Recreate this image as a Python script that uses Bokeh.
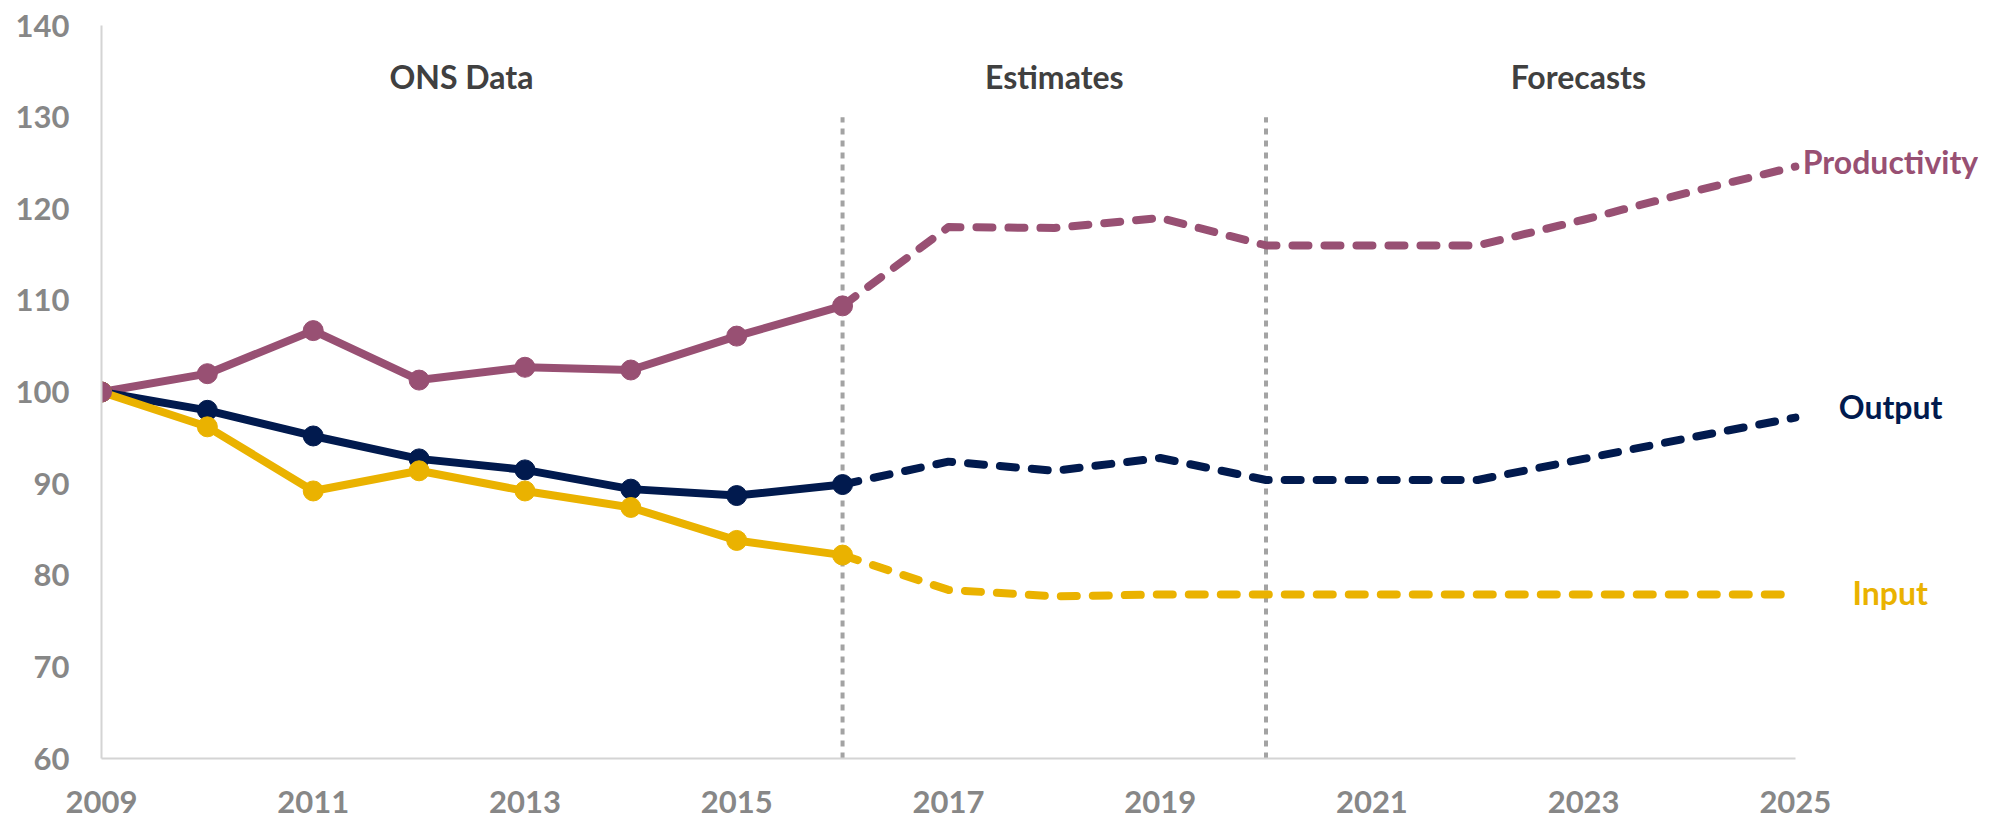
from bokeh.plotting import figure
from bokeh.models import Range1d, FixedTicker, ColumnDataSource
from bokeh.core.properties import value
from bokeh.embed import file_html
from bokeh.resources import INLINE

years = list(range(2009, 2026))
productivity = [100, 102.0, 106.7, 101.3, 102.7, 102.4, 106.1, 109.4,
                118.0, 117.9, 119.0, 116.0, 116.0, 116.0, 118.8, 121.8, 124.6]
output = [100, 98.0, 95.2, 92.7, 91.5, 89.4, 88.7, 89.9,
          92.4, 91.4, 92.8, 90.4, 90.4, 90.4, 92.7, 95.0, 97.2]
inputs = [100, 96.2, 89.2, 91.4, 89.2, 87.4, 83.8, 82.2,
          78.4, 77.7, 77.9, 77.9, 77.9, 77.9, 77.9, 77.9, 77.9]
n_actual = 8  # ONS data 2009-2016

series_names = ["Productivity", "Output", "Input"]
series_colors = ["#985073", "#011A4E", "#EAB200"]
label_pos = [(2025.07, 125.2), (2025.41, 98.4), (2025.54, 78.1)]

sections = ["ONS Data", "Estimates", "Forecasts"]
section_x = [2012.4, 2018.0, 2022.95]
section_y = 134.4
dividers = [2016, 2020]
x_ticks = list(range(2009, 2026, 2))
y_ticks = list(range(60, 141, 10))

FONT = "Lato"

p = figure(width=1980, height=821, output_backend="svg", toolbar_location=None,
           x_range=Range1d(2009, 2026.73), y_range=Range1d(60, 140),
           min_border_left=101, min_border_right=2, min_border_top=25,
           min_border_bottom=63)
p.outline_line_color = None
p.xgrid.grid_line_color = None
p.ygrid.grid_line_color = None
p.background_fill_color = "white"

for ax in (p.xaxis[0], p.yaxis[0]):
    ax.axis_line_color = "#D4D4D4"
    ax.axis_line_width = 2
    ax.major_tick_line_color = None
    ax.minor_tick_line_color = None
    ax.major_label_text_font = FONT
    ax.major_label_text_font_style = "bold"
    ax.major_label_text_font_size = "31px"
    ax.major_label_text_color = "#878787"

p.xaxis.ticker = FixedTicker(ticks=x_ticks)
p.xaxis.bounds = (2009, 2025)
p.yaxis.ticker = FixedTicker(ticks=y_ticks)
p.xaxis.major_label_standoff = 26
p.yaxis.major_label_standoff = 26

# dividers
for d in dividers:
    p.line([d, d], [60, 130], line_color="#A3A3A3", line_width=4, line_dash="6 6")

vals = [productivity, output, inputs]
for name, col, v in zip(series_names, series_colors, vals):
    p.line(years[n_actual - 1:], v[n_actual - 1:], line_color=col, line_width=8,
           line_dash="16 16", line_cap="round", line_join="round")
    p.line(years[:n_actual], v[:n_actual], line_color=col, line_width=8,
           line_join="round")
    p.scatter(years[:n_actual], v[:n_actual], size=20, fill_color=col,
              line_color=col)

p.scatter([years[0]], [productivity[0]], size=20, fill_color=series_colors[0],
          line_color=series_colors[0])

src = ColumnDataSource(dict(x=section_x, y=[section_y] * 3, t=sections))
p.text("x", "y", text="t", source=src, text_font=value(FONT),
       text_font_style="bold", text_font_size="32px", text_color="#404040",
       text_align="center", text_baseline="middle")

for name, col, (lx, ly) in zip(series_names, series_colors, label_pos):
    p.text([lx], [ly], text=[name], text_font=value(FONT), text_font_style="bold",
           text_font_size="32px", text_color=col, text_align="left",
           text_baseline="middle")

open("out.html", "w").write(file_html(p, INLINE))
